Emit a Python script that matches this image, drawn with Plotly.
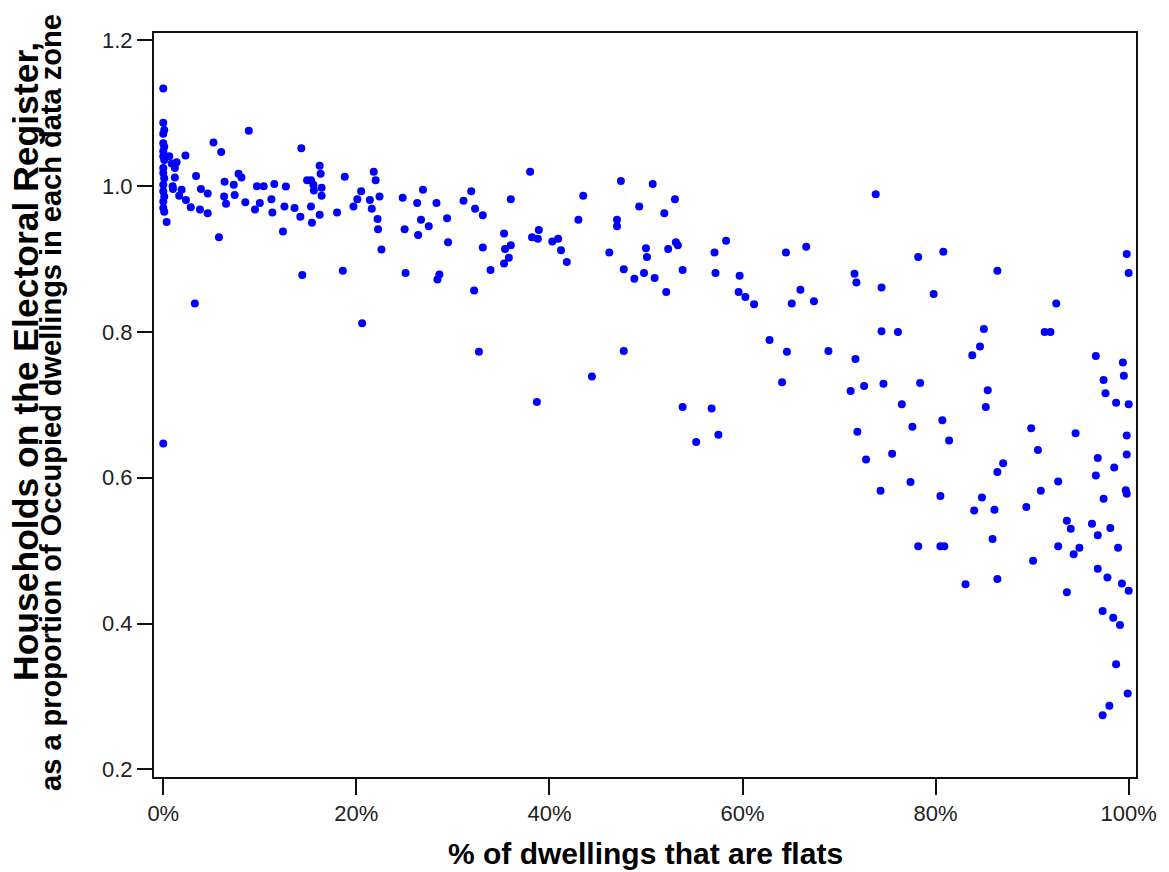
import plotly.graph_objects as go

# % of dwellings that are flats, and households on the register as a
# proportion of occupied dwellings, one pair per data zone.
pct_flats_a = [0.0, 0.0, 0.1, 0.0, 0.0, 0.1, 0.0, 0.0, 0.1, 0.0, 0.0, 0.1, 0.0, 0.0, 0.1, 0.0, 0.0, 0.1, 0.0,
               0.35, 0.62, 0.87, 1.38, 1.2, 2.3, 1.2, 0.97, 1.0, 1.9, 1.65, 2.35, 2.85, 3.4, 3.9, 4.6, 3.8, 4.6,
               3.27, 5.2, 6.0, 5.77, 6.35, 7.3, 6.3, 6.5, 7.4, 7.8, 8.1, 8.86, 8.5, 9.5, 10.0, 9.7, 10.4, 11.5,
               11.2, 11.3, 12.4, 12.7, 12.55, 13.6, 14.2, 14.3, 14.4, 14.9, 15.3, 15.55, 15.6, 15.3, 15.4, 16.2,
               16.3, 16.4, 16.4, 16.2, 18.0, 18.8, 18.6, 19.7, 20.1, 20.5, 21.4, 21.6, 21.8, 22.0, 22.4, 22.2,
               22.25, 22.6, 20.6]
ratio_a = [1.134, 1.087, 1.077, 1.072, 1.059, 1.054, 1.048, 1.041, 1.036, 1.025, 1.018, 1.011, 1.002, 0.993, 0.986,
           0.979, 0.970, 0.965, 0.647,
           0.951, 1.041, 1.031, 1.033, 1.025, 1.042, 1.012, 1.000, 0.996, 0.995, 0.987, 0.981, 0.971, 1.014, 0.996,
           0.990, 0.968, 0.963, 0.839, 1.060, 1.047, 0.930, 1.006, 1.002, 0.986, 0.976, 0.988, 1.017, 1.012, 1.076,
           0.978, 0.968, 0.977, 1.000, 1.000, 1.003, 0.982, 0.964, 0.938, 0.9995, 0.972, 0.970, 0.958, 1.052, 0.878,
           1.008, 1.008, 1.002, 0.994, 0.972, 0.950, 1.028, 1.017, 0.998, 0.987, 0.961, 0.964, 1.013, 0.884, 0.972,
           0.982, 0.993, 0.981, 0.969, 1.020, 1.008, 0.986, 0.955, 0.941, 0.913, 0.812]

pct_flats_b = [24.8, 26.9, 26.3, 28.3, 25.0, 26.7, 27.5, 26.4, 25.1, 29.4, 29.5, 28.6, 28.4, 31.1, 31.9, 32.3, 33.1,
               33.1, 32.2, 33.9, 32.7, 36.0, 35.3, 35.4, 36.0, 35.8, 35.3, 38.0, 38.2, 38.8, 38.9, 40.3, 40.9, 41.2,
               41.8, 38.7, 43.0, 43.5, 46.2, 44.4, 47.4, 47.0, 47.0, 47.7, 48.8, 47.7]
ratio_b = [0.984, 0.995, 0.977, 0.977, 0.941, 0.954, 0.945, 0.933, 0.881, 0.956, 0.923, 0.879, 0.872, 0.980, 0.993,
           0.969, 0.960, 0.916, 0.857, 0.885, 0.773, 0.982, 0.935, 0.914, 0.919, 0.902, 0.894, 1.020, 0.930, 0.928,
           0.940, 0.924, 0.928, 0.912, 0.896, 0.704, 0.954, 0.987, 0.909, 0.739, 1.007, 0.954, 0.945, 0.886, 0.873,
           0.774]

pct_flats_c = [50.7, 53.0, 49.3, 51.9, 50.0, 50.1, 52.3, 53.1, 53.3, 49.8, 50.9, 52.1, 53.8, 57.1, 58.3, 57.2, 59.7,
               59.6, 60.3, 61.2, 64.5, 66.6, 66.0, 65.1, 67.4, 71.6, 71.8, 73.8, 62.8, 64.6, 68.9, 71.7, 64.1, 71.2,
               72.6, 53.8, 56.8, 55.2, 57.5, 71.9, 72.8]
ratio_c = [1.003, 0.982, 0.972, 0.963, 0.915, 0.903, 0.914, 0.923, 0.919, 0.881, 0.874, 0.855, 0.885, 0.909, 0.925,
           0.881, 0.877, 0.855, 0.848, 0.838, 0.909, 0.917, 0.858, 0.839, 0.842, 0.880, 0.868, 0.989, 0.789, 0.773,
           0.774, 0.763, 0.731, 0.719, 0.726, 0.697, 0.695, 0.649, 0.659, 0.663, 0.625]

pct_flats_d = [78.2, 80.8, 86.4, 99.8, 100.0, 74.4, 79.8, 92.5, 74.4, 76.1, 85.0, 84.6, 83.8, 91.3, 91.9, 96.6, 99.4,
               99.5, 97.4, 97.6, 98.7, 100.0, 74.6, 78.4, 76.5, 85.4, 85.2, 77.6, 80.7, 81.4, 89.9, 94.5, 99.8, 90.6,
               99.8, 96.8, 98.5, 96.6, 75.5, 87.0, 86.4, 74.3, 77.4, 80.5, 84.8, 84.0, 86.1, 89.4, 92.7, 90.9, 97.4,
               99.7, 99.8, 93.6, 94.0, 96.2, 98.1, 96.8, 85.9, 78.2, 80.5, 80.9, 92.7, 94.9, 94.3, 98.9, 90.1, 96.8,
               97.8, 99.3, 100.0, 93.6, 83.1, 86.4, 97.3, 98.4, 99.1, 98.7, 99.9, 98.0, 97.3]
ratio_d = [0.903, 0.910, 0.884, 0.907, 0.881, 0.861, 0.852, 0.839, 0.801, 0.800, 0.804, 0.780, 0.768, 0.800, 0.800,
           0.767, 0.758, 0.740, 0.734, 0.716, 0.703, 0.701, 0.729, 0.730, 0.701, 0.720, 0.697, 0.670, 0.679, 0.651,
           0.668, 0.661, 0.658, 0.638, 0.632, 0.627, 0.614, 0.603, 0.633, 0.620, 0.608, 0.582, 0.594, 0.575, 0.573,
           0.555, 0.556, 0.560, 0.595, 0.582, 0.571, 0.583, 0.578, 0.541, 0.530, 0.537, 0.531, 0.521, 0.516, 0.506,
           0.506, 0.506, 0.506, 0.504, 0.495, 0.504, 0.486, 0.475, 0.463, 0.455, 0.445, 0.443, 0.454, 0.461, 0.417,
           0.408, 0.398, 0.344, 0.304, 0.287, 0.274]

pct_flats = pct_flats_a + pct_flats_b + pct_flats_c + pct_flats_d
hh_ratio = ratio_a + ratio_b + ratio_c + ratio_d

x_ticks = [0, 20, 40, 60, 80, 100]
x_tick_labels = ["0%", "20%", "40%", "60%", "80%", "100%"]
y_ticks = [0.2, 0.4, 0.6, 0.8, 1.0, 1.2]
y_tick_labels = ["0.2", "0.4", "0.6", "0.8", "1.0", "1.2"]

SANS = "Liberation Sans, Arial, sans-serif"
TICK_FONT = dict(family=SANS, size=22, color="#222222")

fig = go.Figure(go.Scatter(
    x=pct_flats, y=hh_ratio, mode="markers",
    marker=dict(symbol="circle", size=8, color="#0000FF", line=dict(width=0)),
    hoverinfo="x+y",
))

axis_common = dict(
    showline=True, mirror=True, linecolor="#111111", linewidth=2,
    ticks="outside", tickcolor="#111111", tickwidth=1.5,
    showgrid=False, zeroline=False, tickfont=TICK_FONT,
)

fig.update_layout(
    width=1169, height=872, autosize=False,
    margin=dict(l=154, r=24, t=33, b=95),
    paper_bgcolor="white", plot_bgcolor="white",
    showlegend=False,
    xaxis=dict(range=[-0.96, 100.76], tickvals=x_ticks, ticktext=x_tick_labels,
               ticklen=16, **axis_common),
    yaxis=dict(range=[0.1894, 1.2102], tickvals=y_ticks, ticktext=y_tick_labels,
               ticklen=15, **axis_common),
    annotations=[
        dict(text="<b>% of dwellings that are flats</b>", xref="paper", yref="paper",
             x=0.5, y=-0.103, xanchor="center", yanchor="middle", showarrow=False,
             font=dict(family=SANS, size=30, color="black")),
        dict(text="<b>Households on the Electoral Register,</b>", xref="paper", yref="paper",
             x=-0.1302, y=0.558, xanchor="center", yanchor="middle", textangle=-90, showarrow=False,
             font=dict(family=SANS, size=35.5, color="black")),
        dict(text="<b>as a proportion of Occupied dwellings in each data zone</b>", xref="paper",
             yref="paper", x=-0.105, y=0.504, xanchor="center", yanchor="middle", textangle=-90,
             showarrow=False, font=dict(family=SANS, size=29, color="black")),
    ],
)

fig.write_html("out.html", config={"responsive": False})
